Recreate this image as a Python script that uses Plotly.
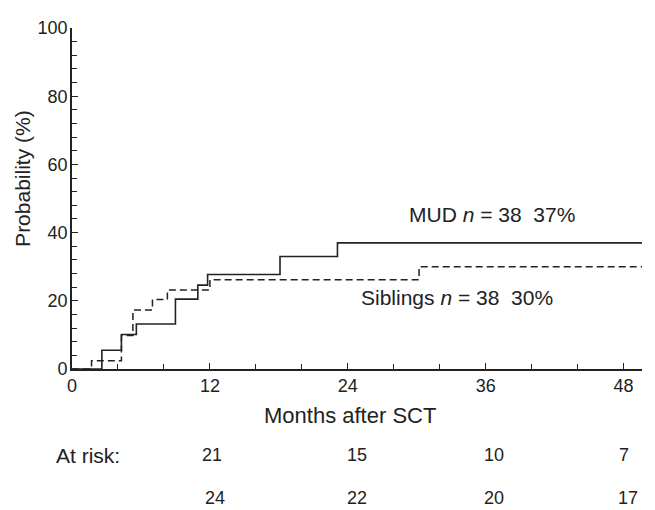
import plotly.graph_objects as go

# ---- data ----
mud_months = [0, 2.6, 4.3, 5.6, 9.0, 10.95, 11.8, 18.1, 23.1, 49.6]
mud_prob = [0, 5.5, 10.1, 13.2, 20.5, 24.6, 27.7, 33.0, 37.0, 37.0]

sib_months = [0, 1.7, 4.3, 5.3, 7.0, 8.3, 12.0, 30.2, 49.6]
sib_prob = [0, 2.4, 9.8, 17.3, 20.4, 23.2, 26.2, 30.0, 30.0]

x_ticks = [0, 12, 24, 36, 48]
y_ticks = [0, 20, 40, 60, 80, 100]

at_risk_mud = ["21", "15", "10", "7"]
at_risk_sib = ["24", "22", "20", "17"]

mud_label = "MUD <i>n</i> = 38  37%"
sib_label = "Siblings <i>n</i> = 38  30%"

# ---- figure ----
FONT = "Liberation Sans, Arial, Helvetica, sans-serif"
INK = "#222222"

fig = go.Figure()
fig.add_trace(go.Scatter(x=mud_months, y=mud_prob, mode="lines",
                         line=dict(shape="hv", color=INK, width=1.6),
                         showlegend=False, hoverinfo="skip"))
fig.add_trace(go.Scatter(x=sib_months, y=sib_prob, mode="lines",
                         line=dict(shape="hv", color=INK, width=1.5, dash="7px,4px"),
                         showlegend=False, hoverinfo="skip"))

axis_common = dict(showgrid=False, zeroline=False, showline=True, linecolor=INK,
                   linewidth=1.6, ticks="inside", ticklen=6, tickwidth=1.4,
                   tickcolor=INK, tickfont=dict(family=FONT, size=18, color=INK),
                   minor=dict(ticks="inside", ticklen=5, tickwidth=1.2, tickcolor=INK))

fig.update_xaxes(range=[0, 49.6], tickvals=x_ticks,
                 ticktext=[str(v) for v in x_ticks],
                 **axis_common)
fig.update_xaxes(minor=dict(dtick=4, tick0=0))
fig.update_yaxes(range=[0, 100], tickvals=y_ticks,
                 ticktext=[str(v) for v in y_ticks],
                 **axis_common)
fig.update_yaxes(minor=dict(dtick=4, tick0=0), ticklabelstandoff=-1)

annotations = []
txt = dict(family=FONT, size=21, color=INK)
annotations.append(dict(x=29.15, y=45.2, xref="x", yref="y", text=mud_label,
                        showarrow=False, xanchor="left", yanchor="middle", font=txt))
annotations.append(dict(x=25.0, y=21.1, xref="x", yref="y", text=sib_label,
                        showarrow=False, xanchor="left", yanchor="middle", font=txt))
annotations.append(dict(x=0.488, y=-0.136, xref="paper", yref="paper",
                        text="Months after SCT", showarrow=False,
                        xanchor="center", yanchor="middle",
                        font=dict(family=FONT, size=22, color=INK)))
annotations.append(dict(x=-0.088, y=0.56, xref="paper", yref="paper",
                        text="Probability (%)", showarrow=False, textangle=-90,
                        xanchor="center", yanchor="middle", font=txt))
annotations.append(dict(x=0.0276, y=-0.2536, xref="paper", yref="paper",
                        text="At risk:", showarrow=False,
                        xanchor="center", yanchor="middle", font=txt))

row_x_mud = [12.2, 24.8, 36.7, 48.0]
row_x_sib = [12.4, 24.8, 36.7, 48.4]
num_font = dict(family=FONT, size=18, color=INK)
for xv, t in zip(row_x_mud, at_risk_mud):
    annotations.append(dict(x=xv, y=-0.2536, xref="x", yref="paper", text=t,
                            showarrow=False, xanchor="center", yanchor="middle",
                            font=num_font))
for xv, t in zip(row_x_sib, at_risk_sib):
    annotations.append(dict(x=xv, y=-0.379, xref="x", yref="paper", text=t,
                            showarrow=False, xanchor="center", yanchor="middle",
                            font=num_font))

# page body has an 8px margin, so the figure is sized to fill the rest of the window
fig.update_layout(width=647, height=502,
                  margin=dict(l=64, r=13, t=10, b=141),
                  paper_bgcolor="white", plot_bgcolor="white",
                  annotations=annotations, showlegend=False)

fig.write_html("out.html")
